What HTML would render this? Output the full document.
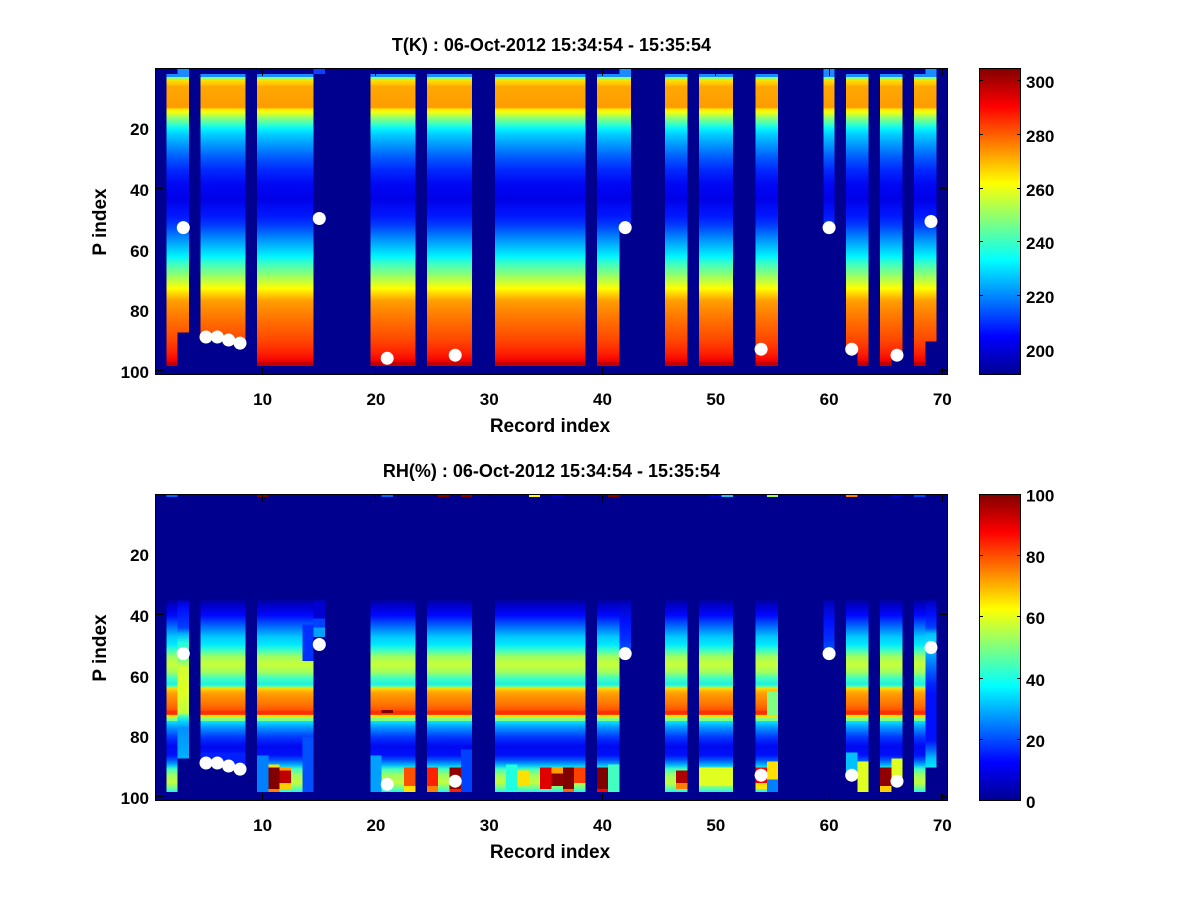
<!DOCTYPE html>
<html><head><meta charset="utf-8"><style>html,body{margin:0;padding:0;background:#fff;}svg{display:block}</style></head>
<body>
<svg width="1200" height="900" xmlns="http://www.w3.org/2000/svg" font-family="'Liberation Sans', Arial, Helvetica, sans-serif" font-weight="bold">
<defs>
<linearGradient id="gT" gradientUnits="userSpaceOnUse" x1="0" y1="0" x2="0" y2="307">
<stop offset="0" stop-color="#1a8cff"/><stop offset="0.0297" stop-color="#1a8cff"/>
<stop offset="0.0297" stop-color="#90ff70"/><stop offset="0.0396" stop-color="#90ff70"/>
<stop offset="0.0396" stop-color="#ffe000"/><stop offset="0.0545" stop-color="#ffc000"/>
<stop offset="0.0594" stop-color="#ffa800"/><stop offset="0.1287" stop-color="#ff9c00"/>
<stop offset="0.134" stop-color="#ffe800"/><stop offset="0.145" stop-color="#f0ff10"/>
<stop offset="0.156" stop-color="#b0ff50"/><stop offset="0.170" stop-color="#70ff90"/>
<stop offset="0.185" stop-color="#30ffd0"/><stop offset="0.200" stop-color="#00f0ff"/>
<stop offset="0.215" stop-color="#00d0ff"/>
<stop offset="0.2554" stop-color="#0090ff"/><stop offset="0.2871" stop-color="#0060ff"/>
<stop offset="0.3317" stop-color="#0028ff"/><stop offset="0.3762" stop-color="#0008f4"/>
<stop offset="0.4257" stop-color="#0000e8"/><stop offset="0.4832" stop-color="#0018ff"/>
<stop offset="0.5149" stop-color="#0040ff"/><stop offset="0.5485" stop-color="#0080ff"/>
<stop offset="0.5842" stop-color="#00c0ff"/><stop offset="0.6139" stop-color="#00f4ff"/>
<stop offset="0.6386" stop-color="#40ffc0"/><stop offset="0.6673" stop-color="#80ff80"/>
<stop offset="0.6931" stop-color="#c0ff40"/><stop offset="0.7178" stop-color="#ffff00"/>
<stop offset="0.7376" stop-color="#ffd000"/><stop offset="0.7574" stop-color="#ffa000"/>
<stop offset="0.8089" stop-color="#ff7800"/><stop offset="0.8851" stop-color="#ff4800"/>
<stop offset="0.9287" stop-color="#ff2000"/><stop offset="0.9554" stop-color="#f00000"/>
<stop offset="0.9604" stop-color="#c00000"/><stop offset="1" stop-color="#c00000"/>
</linearGradient>
<linearGradient id="gR" gradientUnits="userSpaceOnUse" x1="0" y1="0" x2="0" y2="307">
<stop offset="0" stop-color="#00008f"/><stop offset="0.3465" stop-color="#00008f"/>
<stop offset="0.3465" stop-color="#0000a8"/><stop offset="0.3713" stop-color="#0000d8"/>
<stop offset="0.396" stop-color="#0008ff"/><stop offset="0.4158" stop-color="#0040ff"/>
<stop offset="0.4455" stop-color="#0090ff"/><stop offset="0.4653" stop-color="#00c8ff"/>
<stop offset="0.49" stop-color="#00e8ff"/><stop offset="0.51" stop-color="#40ffc0"/>
<stop offset="0.53" stop-color="#a0ff60"/><stop offset="0.555" stop-color="#c8ff38"/>
<stop offset="0.58" stop-color="#a0ff60"/><stop offset="0.60" stop-color="#40ffc0"/>
<stop offset="0.62" stop-color="#20f0e0"/><stop offset="0.6297" stop-color="#80ff80"/>
<stop offset="0.6337" stop-color="#ffd800"/>
<stop offset="0.6485" stop-color="#ffa000"/><stop offset="0.6871" stop-color="#ff7000"/>
<stop offset="0.705" stop-color="#ff5000"/><stop offset="0.7069" stop-color="#ff3000"/>
<stop offset="0.7188" stop-color="#ff3000"/><stop offset="0.7198" stop-color="#ffe000"/>
<stop offset="0.7287" stop-color="#ffe000"/><stop offset="0.7297" stop-color="#80ff80"/>
<stop offset="0.7386" stop-color="#80ff80"/><stop offset="0.7396" stop-color="#00e8ff"/>
<stop offset="0.7624" stop-color="#0090ff"/><stop offset="0.795" stop-color="#0030ff"/>
<stop offset="0.8218" stop-color="#0008f0"/><stop offset="0.8505" stop-color="#0010f8"/>
<stop offset="0.8663" stop-color="#0050ff"/><stop offset="0.8822" stop-color="#00b0ff"/>
<stop offset="0.896" stop-color="#40ffc0"/><stop offset="0.9158" stop-color="#a0ff60"/>
<stop offset="0.9406" stop-color="#c0ff40"/><stop offset="0.9604" stop-color="#60ffa0"/>
<stop offset="0.9703" stop-color="#20f0ff"/><stop offset="1" stop-color="#20f0ff"/>
</linearGradient>
<linearGradient id="gR3" gradientUnits="userSpaceOnUse" x1="0" y1="0" x2="0" y2="307">
<stop offset="0" stop-color="#00008f"/><stop offset="0.3465" stop-color="#00008f"/>
<stop offset="0.3465" stop-color="#0000d0"/><stop offset="0.3762" stop-color="#0010ff"/>
<stop offset="0.4356" stop-color="#0040ff"/><stop offset="0.4554" stop-color="#00b0ff"/>
<stop offset="0.4851" stop-color="#20ffe0"/><stop offset="0.5248" stop-color="#60ffa0"/>
<stop offset="0.5446" stop-color="#80ff80"/><stop offset="0.5644" stop-color="#d0ff30"/>
<stop offset="0.6436" stop-color="#e0ff20"/><stop offset="0.7129" stop-color="#c0ff40"/>
<stop offset="0.7228" stop-color="#40ffc0"/><stop offset="0.7426" stop-color="#00d0ff"/>
<stop offset="0.7624" stop-color="#0090ff"/><stop offset="0.8614" stop-color="#00b0ff"/>
<stop offset="1" stop-color="#00b0ff"/>
</linearGradient>
<linearGradient id="gR69" gradientUnits="userSpaceOnUse" x1="0" y1="0" x2="0" y2="307">
<stop offset="0" stop-color="#00008f"/><stop offset="0.3465" stop-color="#00008f"/>
<stop offset="0.3465" stop-color="#0000c0"/><stop offset="0.396" stop-color="#0010ff"/>
<stop offset="0.4356" stop-color="#0040ff"/><stop offset="0.4554" stop-color="#00c0ff"/>
<stop offset="0.495" stop-color="#20e8ff"/><stop offset="0.5248" stop-color="#00a0ff"/>
<stop offset="0.5842" stop-color="#0050ff"/><stop offset="0.6238" stop-color="#0020ff"/>
<stop offset="0.6535" stop-color="#0010ff"/><stop offset="0.802" stop-color="#0010ff"/>
<stop offset="0.8317" stop-color="#0060ff"/><stop offset="0.8614" stop-color="#00c0ff"/>
<stop offset="0.8911" stop-color="#00e8ff"/><stop offset="1" stop-color="#00e8ff"/>
</linearGradient>
<linearGradient id="gRB" gradientUnits="userSpaceOnUse" x1="0" y1="0" x2="0" y2="307">
<stop offset="0" stop-color="#00008f"/><stop offset="0.3465" stop-color="#0000b8"/>
<stop offset="0.4158" stop-color="#0010ff"/><stop offset="0.4752" stop-color="#0030ff"/>
<stop offset="0.505" stop-color="#0050ff"/><stop offset="1" stop-color="#0050ff"/>
</linearGradient>
<linearGradient id="jet" x1="0" y1="1" x2="0" y2="0">
<stop offset="0" stop-color="#00008f"/><stop offset="0.125" stop-color="#0000ff"/>
<stop offset="0.375" stop-color="#00ffff"/><stop offset="0.625" stop-color="#ffff00"/>
<stop offset="0.875" stop-color="#ff0000"/><stop offset="1" stop-color="#800000"/>
</linearGradient>
</defs>

<rect width="1200" height="900" fill="#fff"/>

<!-- ===== T heatmap ===== -->
<svg x="155" y="68" width="793" height="307" shape-rendering="crispEdges">
<rect width="793" height="307" fill="#00008f"/>
<g fill="url(#gT)">
<rect x="11.33" y="6.08" width="11.33" height="291.8"/>
<rect x="22.66" y="0" width="11.33" height="264.45"/>
<rect x="45.32" y="6.08" width="22.66" height="261.41"/>
<rect x="67.97" y="6.08" width="11.33" height="264.45"/>
<rect x="79.3" y="6.08" width="11.33" height="267.48"/>
<rect x="101.96" y="6.08" width="56.65" height="291.8"/>
<rect x="215.25" y="6.08" width="45.32" height="291.8"/>
<rect x="271.9" y="6.08" width="45.32" height="291.8"/>
<rect x="339.87" y="6.08" width="90.63" height="291.8"/>
<rect x="441.83" y="6.08" width="22.66" height="291.8"/>
<rect x="464.49" y="0" width="11.33" height="155.02"/>
<rect x="509.8" y="6.08" width="22.66" height="291.8"/>
<rect x="543.79" y="6.08" width="33.99" height="291.8"/>
<rect x="600.44" y="6.08" width="22.66" height="291.8"/>
<rect x="668.41" y="0" width="11.33" height="155.02"/>
<rect x="691.07" y="6.08" width="11.33" height="273.56"/>
<rect x="702.4" y="6.08" width="11.33" height="291.8"/>
<rect x="725.06" y="6.08" width="11.33" height="291.8"/>
<rect x="736.39" y="6.08" width="11.33" height="279.64"/>
<rect x="759.04" y="6.08" width="11.33" height="291.8"/>
<rect x="770.37" y="0" width="11.33" height="273.56"/>
</g>
<rect x="158.61" y="0" width="11.33" height="6.08" fill="#1040ff"/>
</svg>

<!-- ===== RH heatmap ===== -->
<svg x="155" y="494" width="793" height="307" shape-rendering="crispEdges">
<rect width="793" height="307" fill="#00008f"/>
<g fill="url(#gR)">
<rect x="11.33" y="0" width="11.33" height="297.88"/>
<rect x="45.32" y="0" width="22.66" height="267.48"/>
<rect x="67.97" y="0" width="11.33" height="270.52"/>
<rect x="79.3" y="0" width="11.33" height="273.56"/>
<rect x="101.96" y="0" width="56.65" height="297.88"/>
<rect x="215.25" y="0" width="45.32" height="297.88"/>
<rect x="271.9" y="0" width="45.32" height="297.88"/>
<rect x="339.87" y="0" width="90.63" height="297.88"/>
<rect x="441.83" y="0" width="22.66" height="297.88"/>
<rect x="509.8" y="0" width="22.66" height="297.88"/>
<rect x="543.79" y="0" width="33.99" height="297.88"/>
<rect x="600.44" y="0" width="22.66" height="297.88"/>
<rect x="691.07" y="0" width="11.33" height="279.64"/>
<rect x="702.4" y="0" width="11.33" height="297.88"/>
<rect x="725.06" y="0" width="11.33" height="297.88"/>
<rect x="736.39" y="0" width="11.33" height="285.72"/>
<rect x="759.04" y="0" width="11.33" height="297.88"/>
</g>
<rect x="22.66" y="0" width="11.33" height="264.45" fill="url(#gR3)"/>
<rect x="770.37" y="0" width="11.33" height="273.56" fill="url(#gR69)"/>
<rect x="464.49" y="106.39" width="11.33" height="48.63" fill="url(#gRB)"/>
<rect x="668.41" y="106.39" width="11.33" height="48.63" fill="url(#gRB)"/>
<rect x="158.61" y="106.39" width="11.33" height="18.24" fill="#0000d0"/>
<rect x="158.61" y="124.62" width="11.33" height="9.12" fill="#0040ff"/>
<rect x="158.61" y="133.74" width="11.33" height="9.12" fill="#00a0ff"/>
<!-- patches -->
<rect x="45.32" y="258.37" width="22.66" height="9.12" fill="#0020ff"/>
<rect x="67.97" y="258.37" width="11.33" height="12.16" fill="#0020ff"/>
<rect x="79.3" y="258.37" width="11.33" height="15.2" fill="#0020ff"/>
<rect x="101.96" y="261.41" width="11.33" height="36.48" fill="#0080ff"/>
<rect x="113.29" y="270.52" width="11.33" height="3.04" fill="#ffe000"/>
<rect x="113.29" y="273.56" width="11.33" height="21.28" fill="#800000"/>
<rect x="113.29" y="294.84" width="11.33" height="3.04" fill="#ff8000"/>
<rect x="124.62" y="273.56" width="11.33" height="3.04" fill="#ffa000"/>
<rect x="124.62" y="276.6" width="11.33" height="12.16" fill="#c00000"/>
<rect x="124.62" y="288.76" width="11.33" height="6.08" fill="#ffd000"/>
<rect x="124.62" y="294.84" width="11.33" height="3.04" fill="#40ffc0"/>
<rect x="147.28" y="130.7" width="11.33" height="36.48" fill="#0030ff"/>
<rect x="147.28" y="243.17" width="11.33" height="54.71" fill="#0050ff"/>
<rect x="215.25" y="261.41" width="11.33" height="36.48" fill="#00a0ff"/>
<rect x="226.58" y="215.81" width="11.33" height="3.04" fill="#800000"/>
<rect x="249.24" y="273.56" width="11.33" height="18.24" fill="#ff5000"/>
<rect x="249.24" y="291.8" width="11.33" height="6.08" fill="#ffe000"/>
<rect x="271.9" y="273.56" width="11.33" height="18.24" fill="#ff2000"/>
<rect x="271.9" y="291.8" width="11.33" height="6.08" fill="#ff8000"/>
<rect x="294.55" y="273.56" width="11.33" height="21.28" fill="#900000"/>
<rect x="294.55" y="294.84" width="11.33" height="3.04" fill="#ff2000"/>
<rect x="305.88" y="255.33" width="11.33" height="42.55" fill="#0040ff"/>
<rect x="351.2" y="270.52" width="11.33" height="27.36" fill="#20ffe0"/>
<rect x="362.53" y="276.6" width="11.33" height="15.2" fill="#ffe000"/>
<rect x="385.19" y="273.56" width="11.33" height="21.28" fill="#e00000"/>
<rect x="396.52" y="273.56" width="11.33" height="6.08" fill="#ffa000"/>
<rect x="396.52" y="279.64" width="11.33" height="12.16" fill="#900000"/>
<rect x="407.84" y="273.56" width="11.33" height="21.28" fill="#800000"/>
<rect x="407.84" y="294.84" width="11.33" height="3.04" fill="#ff6000"/>
<rect x="419.17" y="273.56" width="11.33" height="15.2" fill="#ff4000"/>
<rect x="441.83" y="273.56" width="11.33" height="21.28" fill="#800000"/>
<rect x="441.83" y="294.84" width="11.33" height="3.04" fill="#ff0000"/>
<rect x="453.16" y="270.52" width="11.33" height="27.36" fill="#40ffc0"/>
<rect x="521.13" y="276.6" width="11.33" height="12.16" fill="#b00000"/>
<rect x="521.13" y="288.76" width="11.33" height="6.08" fill="#ff8000"/>
<rect x="543.79" y="273.56" width="33.99" height="18.24" fill="#e0ff20"/>
<rect x="600.44" y="273.56" width="11.33" height="15.2" fill="#ff0000"/>
<rect x="600.44" y="288.76" width="11.33" height="6.08" fill="#ffe000"/>
<rect x="611.77" y="197.57" width="11.33" height="24.32" fill="#80ff80"/>
<rect x="611.77" y="267.48" width="11.33" height="18.24" fill="#ffe000"/>
<rect x="611.77" y="285.72" width="11.33" height="12.16" fill="#0080ff"/>
<rect x="691.07" y="258.37" width="11.33" height="21.28" fill="#00c0ff"/>
<rect x="702.4" y="267.48" width="11.33" height="30.4" fill="#e0ff20"/>
<rect x="725.06" y="273.56" width="11.33" height="18.24" fill="#900000"/>
<rect x="725.06" y="291.8" width="11.33" height="6.08" fill="#ffd000"/>
<rect x="736.39" y="264.45" width="11.33" height="21.28" fill="#e0ff20"/>
<!-- top row cells -->
<rect x="11.33" y="0" width="11.33" height="3.04" fill="#0060ff"/>
<rect x="101.96" y="0" width="11.33" height="3.04" fill="#800000"/>
<rect x="226.58" y="0" width="11.33" height="3.04" fill="#0060ff"/>
<rect x="283.23" y="0" width="11.33" height="3.04" fill="#800000"/>
<rect x="305.88" y="0" width="11.33" height="3.04" fill="#800000"/>
<rect x="373.86" y="0" width="11.33" height="3.04" fill="#ffff00"/>
<rect x="396.52" y="0" width="11.33" height="3.04" fill="#0000c8"/>
<rect x="453.16" y="0" width="11.33" height="3.04" fill="#800000"/>
<rect x="555.12" y="0" width="11.33" height="3.04" fill="#0000e0"/>
<rect x="566.45" y="0" width="11.33" height="3.04" fill="#20c0ff"/>
<rect x="611.77" y="0" width="11.33" height="3.04" fill="#a0ff60"/>
<rect x="691.07" y="0" width="11.33" height="3.04" fill="#ff8000"/>
<rect x="736.39" y="0" width="11.33" height="3.04" fill="#0000d0"/>
<rect x="759.04" y="0" width="11.33" height="3.04" fill="#0040ff"/>
</svg>

<!-- dots -->
<g fill="#fff">
<circle cx="183.3" cy="227.6" r="6.5"/><circle cx="206" cy="337" r="6.5"/><circle cx="217.3" cy="337" r="6.5"/>
<circle cx="228.6" cy="340" r="6.5"/><circle cx="240" cy="343.1" r="6.5"/><circle cx="319.3" cy="218.5" r="6.5"/>
<circle cx="387.2" cy="358.3" r="6.5"/><circle cx="455.2" cy="355.2" r="6.5"/><circle cx="625.2" cy="227.6" r="6.5"/>
<circle cx="761.1" cy="349.2" r="6.5"/><circle cx="829.1" cy="227.6" r="6.5"/><circle cx="851.7" cy="349.2" r="6.5"/>
<circle cx="897" cy="355.2" r="6.5"/><circle cx="931" cy="221.5" r="6.5"/>
<circle cx="183.3" cy="653.6" r="6.5"/><circle cx="206" cy="763" r="6.5"/><circle cx="217.3" cy="763" r="6.5"/>
<circle cx="228.6" cy="766" r="6.5"/><circle cx="240" cy="769.1" r="6.5"/><circle cx="319.3" cy="644.5" r="6.5"/>
<circle cx="387.2" cy="784.3" r="6.5"/><circle cx="455.2" cy="781.2" r="6.5"/><circle cx="625.2" cy="653.6" r="6.5"/>
<circle cx="761.1" cy="775.2" r="6.5"/><circle cx="829.1" cy="653.6" r="6.5"/><circle cx="851.7" cy="775.2" r="6.5"/>
<circle cx="897" cy="781.2" r="6.5"/><circle cx="931" cy="647.5" r="6.5"/>
</g>

<!-- axes frames and ticks -->
<g fill="none" stroke="#000" stroke-width="1">
<rect x="155.5" y="68.5" width="792" height="306"/>
<rect x="155.5" y="494.5" width="792" height="306"/>
<path d="M262.5 375V367M375.5 375V367M489.5 375V367M602.5 375V367M715.5 375V367M829.5 375V367M942.5 375V367
M262.5 68V76M375.5 68V76M489.5 68V76M602.5 68V76M715.5 68V76M829.5 68V76M942.5 68V76
M155 127.5H163M155 188.5H163M155 249.5H163M155 309.5H163M155 370.5H163
M948 127.5H940M948 188.5H940M948 249.5H940M948 309.5H940M948 370.5H940"/>
<path d="M262.5 801V793M375.5 801V793M489.5 801V793M602.5 801V793M715.5 801V793M829.5 801V793M942.5 801V793
M262.5 494V502M375.5 494V502M489.5 494V502M602.5 494V502M715.5 494V502M829.5 494V502M942.5 494V502
M155 553.5H163M155 614.5H163M155 675.5H163M155 735.5H163M155 796.5H163
M948 553.5H940M948 614.5H940M948 675.5H940M948 735.5H940M948 796.5H940"/>
</g>

<!-- colorbars -->
<rect x="979" y="68" width="42" height="307" fill="url(#jet)"/>
<rect x="979" y="494" width="42" height="307" fill="url(#jet)"/>
<g fill="none" stroke="#000" stroke-width="1">
<rect x="979.5" y="68.5" width="41" height="306"/>
<rect x="979.5" y="494.5" width="41" height="306"/>
<path d="M979 80.5H983M979 134.5H983M979 188.5H983M979 241.5H983M979 295.5H983M979 349.5H983
M1021 80.5H1017M1021 134.5H1017M1021 188.5H1017M1021 241.5H1017M1021 295.5H1017M1021 349.5H1017
M979 555.5H983M979 616.5H983M979 678.5H983M979 739.5H983
M1021 555.5H1017M1021 616.5H1017M1021 678.5H1017M1021 739.5H1017"/>
</g>

<!-- titles -->
<g font-size="18" text-anchor="middle" fill="#000">
<text x="551.5" y="51">T(K) : 06-Oct-2012 15:34:54 - 15:35:54</text>
<text x="551.5" y="477">RH(%) : 06-Oct-2012 15:34:54 - 15:35:54</text>
</g>
<!-- axis labels -->
<g font-size="19" text-anchor="middle" fill="#000">
<text x="550" y="432">Record index</text>
<text x="550" y="858">Record index</text>
<text x="106" y="222" transform="rotate(-90 106 222)">P index</text>
<text x="106" y="648" transform="rotate(-90 106 648)">P index</text>
</g>
<!-- x tick labels -->
<g font-size="17" text-anchor="middle" fill="#000">
<text x="262.6" y="405">10</text><text x="375.9" y="405">20</text><text x="489.2" y="405">30</text>
<text x="602.5" y="405">40</text><text x="715.8" y="405">50</text><text x="829.1" y="405">60</text><text x="942.3" y="405">70</text>
<text x="262.6" y="831">10</text><text x="375.9" y="831">20</text><text x="489.2" y="831">30</text>
<text x="602.5" y="831">40</text><text x="715.8" y="831">50</text><text x="829.1" y="831">60</text><text x="942.3" y="831">70</text>
</g>
<!-- y tick labels -->
<g font-size="17" text-anchor="end" fill="#000">
<text x="149" y="135">20</text><text x="149" y="196">40</text><text x="149" y="257">60</text>
<text x="149" y="317">80</text><text x="149" y="378">100</text>
<text x="149" y="561">20</text><text x="149" y="622">40</text><text x="149" y="683">60</text>
<text x="149" y="743">80</text><text x="149" y="804">100</text>
</g>
<!-- colorbar labels -->
<g font-size="17" text-anchor="start" fill="#000">
<text x="1026" y="88">300</text><text x="1026" y="142">280</text><text x="1026" y="196">260</text>
<text x="1026" y="249">240</text><text x="1026" y="303">220</text><text x="1026" y="357">200</text>
<text x="1026" y="501.5">100</text><text x="1026" y="563">80</text><text x="1026" y="624">60</text>
<text x="1026" y="686">40</text><text x="1026" y="747">20</text><text x="1026" y="808">0</text>
</g>
</svg>
</body></html>
